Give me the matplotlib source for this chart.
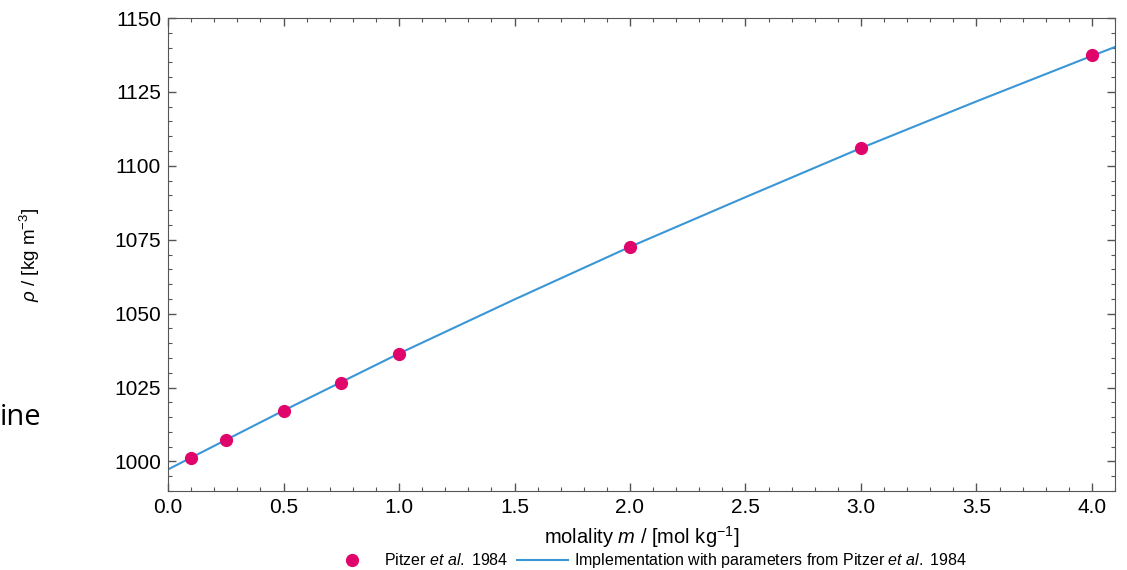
import matplotlib
matplotlib.use("Agg")
import matplotlib.pyplot as plt
from matplotlib.ticker import MultipleLocator

plt.rcParams['font.family'] = ['Liberation Sans', 'DejaVu Sans']
plt.rcParams['mathtext.fontset'] = 'custom'
plt.rcParams['mathtext.rm'] = 'Liberation Sans'
plt.rcParams['mathtext.it'] = 'Liberation Sans:italic'

# measured densities (Pitzer et al. 1984)
m_data = [0.1, 0.25, 0.5, 0.75, 1.0, 2.0, 3.0, 4.0]
rho_data = [1001.0, 1007.1, 1017.2, 1026.7, 1036.5, 1072.6, 1106.1, 1137.5]

# model curve evaluated with the Pitzer parameters
m_model = [0.0, 0.5, 1.0, 1.5, 2.0, 2.5, 3.0, 3.5, 4.0, 4.1]
rho_model = [997.3, 1017.2, 1036.5, 1054.8, 1072.6, 1089.4, 1106.0, 1121.8, 1137.2, 1140.2]

fig = plt.figure(figsize=(11.27, 5.70), dpi=100)
ax = fig.add_axes([0.1491, 0.1386, 0.9894 - 0.1491, 0.9684 - 0.1386])

ax.plot(m_data, rho_data, 'o', color='#e0056a', markersize=8.5, zorder=3,
        label=r'Pitzer $et\ al.$ 1984')
ax.plot(m_model, rho_model, '-', color='#3a96d6', linewidth=1.5,
        label=r'Implementation with parameters from Pitzer $et\ al.$ 1984')

ax.set_xlim(0, 4.1)
ax.set_ylim(990, 1150)
ax.xaxis.set_major_locator(MultipleLocator(0.5))
ax.xaxis.set_minor_locator(MultipleLocator(0.1))
ax.yaxis.set_major_locator(MultipleLocator(25))
ax.yaxis.set_minor_locator(MultipleLocator(5))
ax.tick_params(which='both', direction='in', top=True, right=True, colors='#555555',
               labelcolor='black', labelsize=15)
ax.tick_params(which='major', length=6, width=1, pad=5)
ax.tick_params(which='minor', length=3, width=0.8)
for s in ax.spines.values():
    s.set_color('#555555')

ax.set_xlabel(r'molality $m$ / [mol kg$^{-1}$]', fontsize=14.5, labelpad=5)
ax.set_ylabel(r'$\rho$ / [kg m$^{-3}$]', fontsize=13.5, labelpad=0)
ax.yaxis.set_label_coords(-0.133, 0.50)

fig.legend(loc='lower center', bbox_to_anchor=(0.574, -0.026), ncol=2, frameon=False,
           fontsize=11.5, handlelength=3.2, handletextpad=0.4, columnspacing=0.5)

# leftover slide text behind the figure
fig.text(41 / 1127, 1 - 425 / 570, 'ine', fontsize=21, ha='right', va='baseline',
         family=['Open Sans', 'DejaVu Sans'])

fig.savefig('out.png', dpi=100)
